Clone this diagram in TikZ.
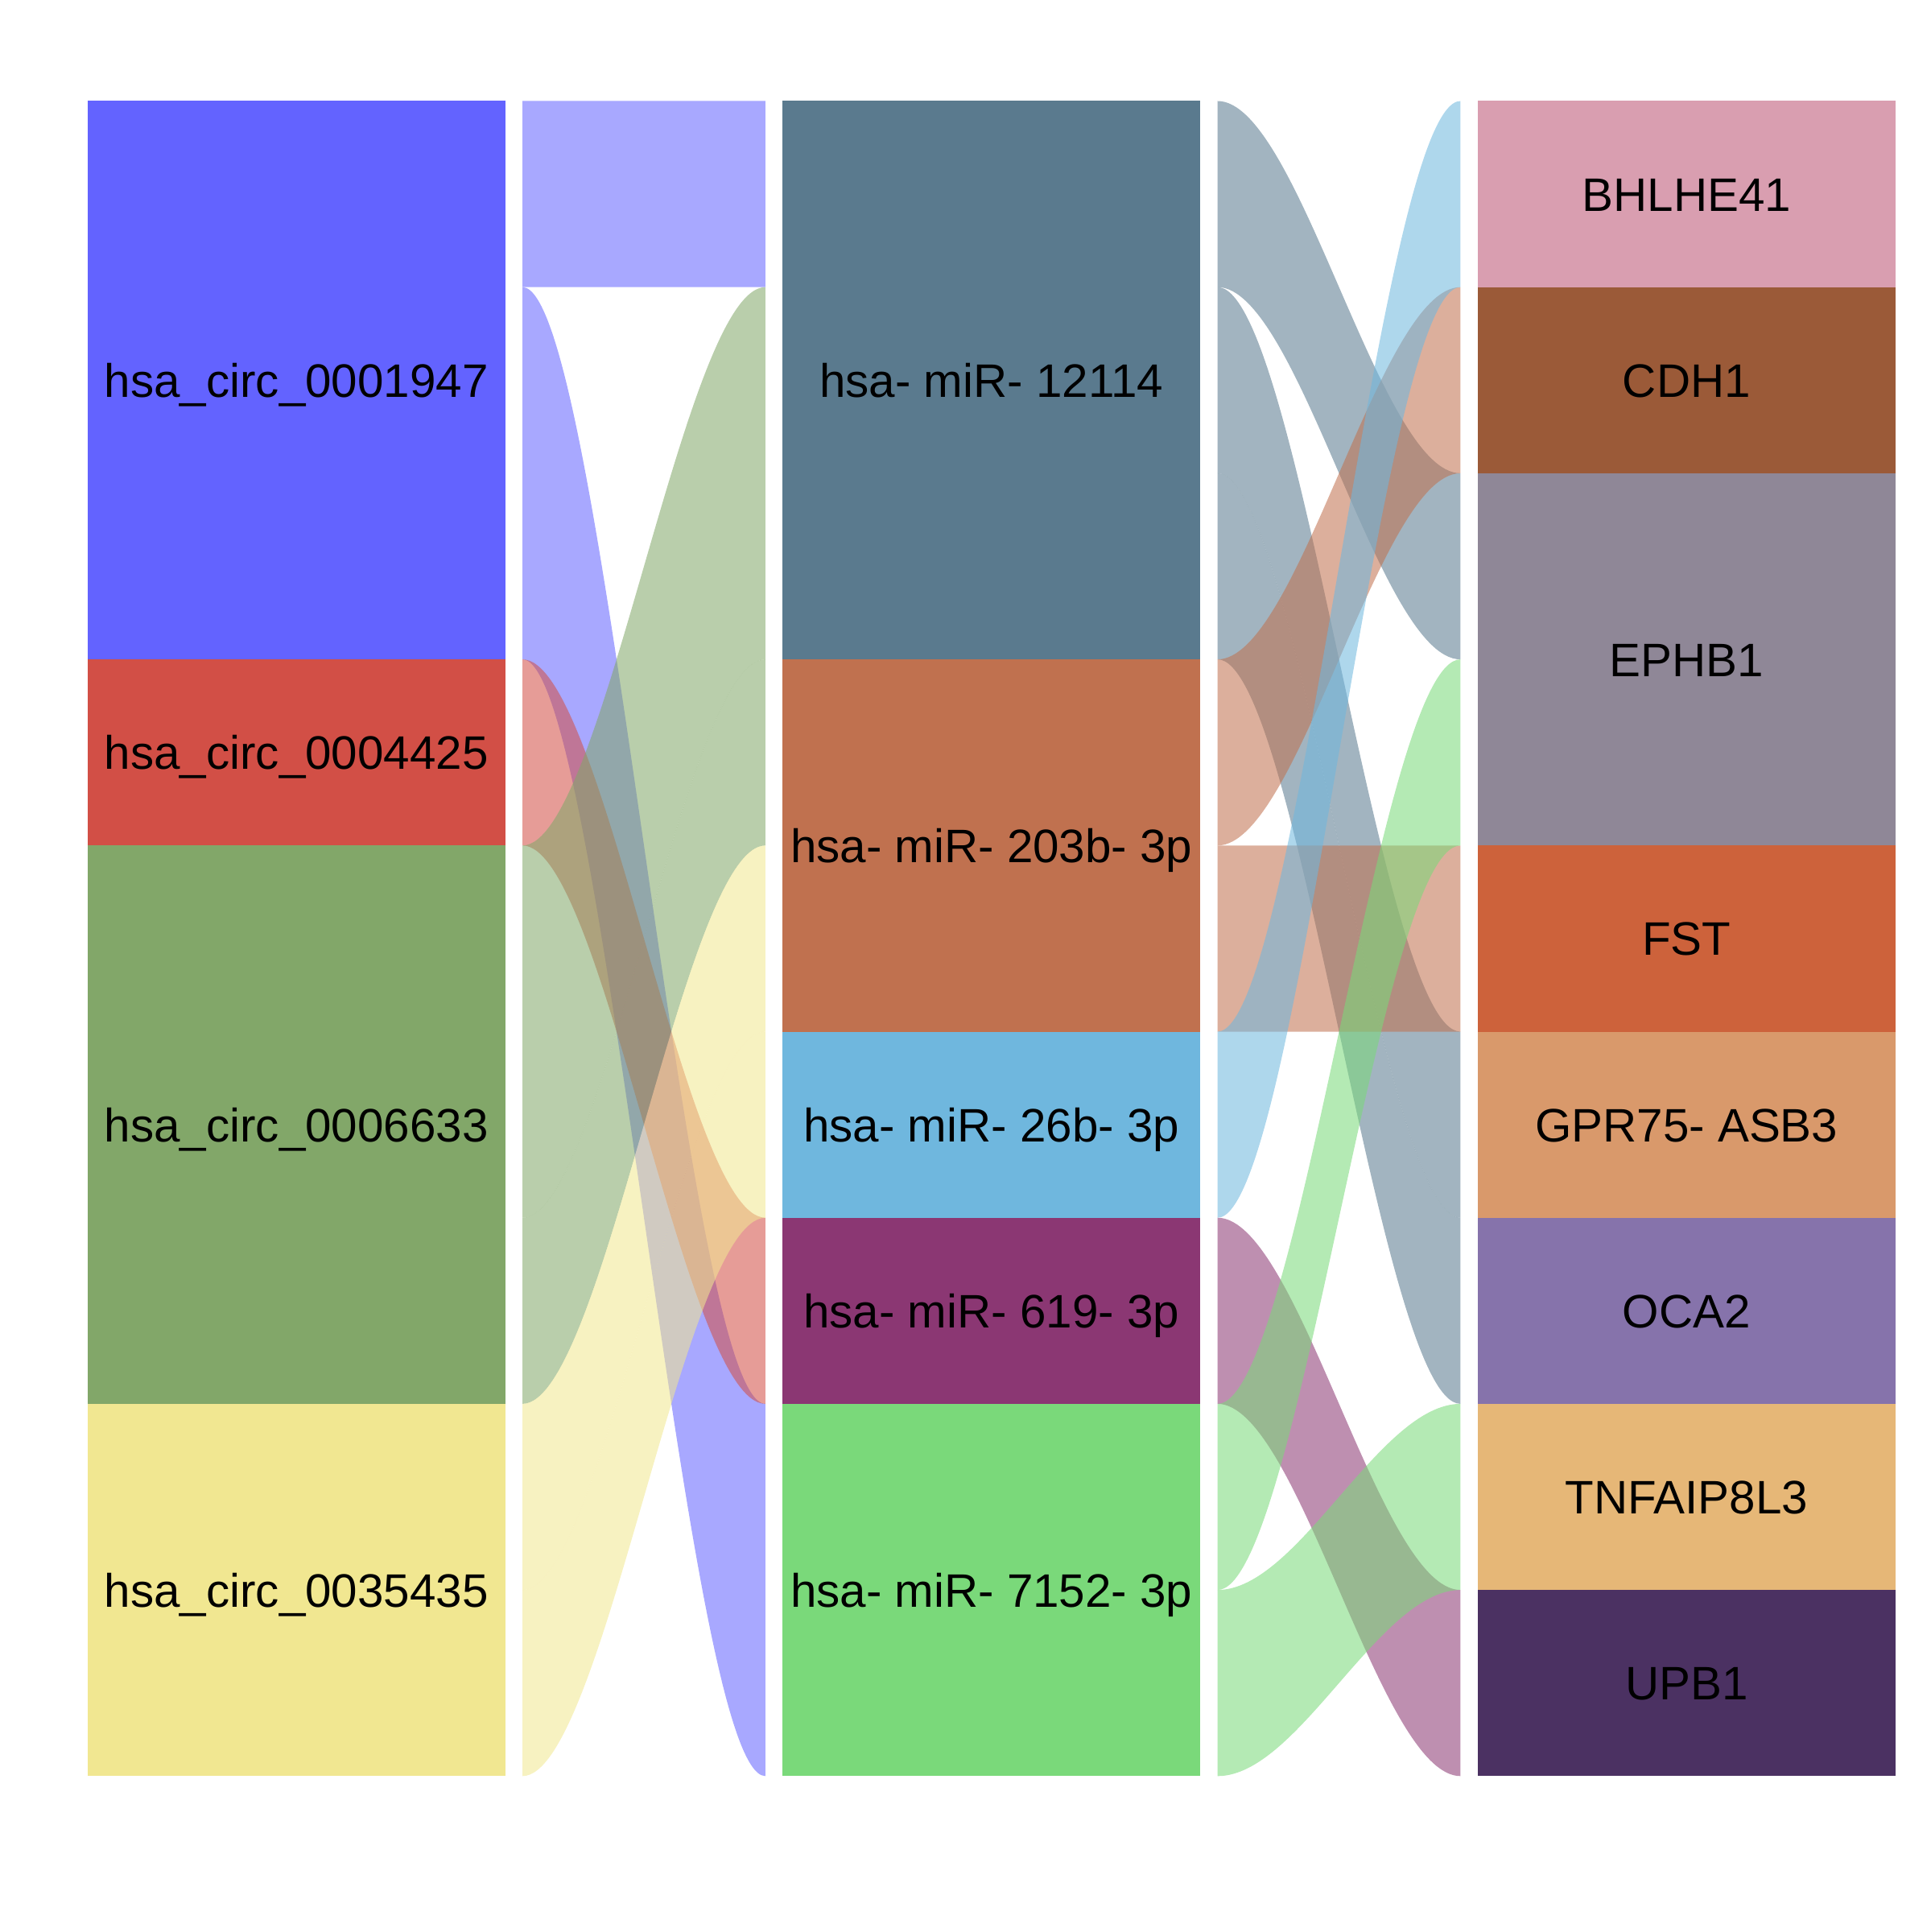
\documentclass[tikz,border=0pt]{standalone}
\usepackage{fontspec}
\setmainfont{Liberation Sans}
\usepackage{tikz}

\definecolor{circA}{RGB}{99,99,255}
\definecolor{circB}{RGB}{210,79,70}
\definecolor{circC}{RGB}{130,167,105}
\definecolor{circD}{RGB}{241,231,145}
\definecolor{mirA}{RGB}{90,122,142}
\definecolor{mirB}{RGB}{192,113,79}
\definecolor{mirC}{RGB}{111,183,222}
\definecolor{mirD}{RGB}{139,55,115}
\definecolor{mirE}{RGB}{122,217,122}
\definecolor{geneA}{RGB}{217,158,176}
\definecolor{geneB}{RGB}{155,90,56}
\definecolor{geneC}{RGB}{143,135,151}
\definecolor{geneD}{RGB}{205,98,59}
\definecolor{geneE}{RGB}{217,153,107}
\definecolor{geneF}{RGB}{134,115,171}
\definecolor{geneG}{RGB}{230,183,119}
\definecolor{geneH}{RGB}{75,49,98}

% band: left x, left top, left bottom, right top, right bottom, colour
\newcommand{\band}[6]{%
  \fill[#6, opacity=0.56] (#1,#2) .. controls (#1+101,#2) and (#1+201,#4) .. (#1+302,#4)
    -- (#1+302,#5) .. controls (#1+201,#5) and (#1+101,#3) .. (#1,#3) -- cycle;}

\begin{document}
\begin{tikzpicture}[x=0.01cm, y=-2.312cm,
    box/.style={rectangle, inner sep=0pt, outer sep=0pt, minimum width=5.19cm,
      text height=11.9pt, text depth=0pt, font=\fontsize{16.6}{19}\selectfont},
    slots/.style={minimum height=#1*2.312cm}]
    \useasboundingbox (0,-0.5428) rectangle (2400,9.8378);

    % circRNA -> miRNA
    \band{649.5}{0}{1}{0}{1}{circA}
    \band{649.5}{1}{3}{7}{9}{circA}
    \band{649.5}{3}{4}{6}{7}{circB}
    \band{649.5}{4}{6}{1}{3}{circC}
    \band{649.5}{6}{7}{3}{4}{circC}
    \band{649.5}{7}{8}{4}{5}{circD}
    \band{649.5}{8}{9}{5}{6}{circD}

    % miRNA -> gene
    \band{1513.5}{0}{1}{2}{3}{mirA}
    \band{1513.5}{1}{2}{5}{6}{mirA}
    \band{1513.5}{2}{3}{6}{7}{mirA}
    \band{1513.5}{3}{4}{1}{2}{mirB}
    \band{1513.5}{4}{5}{4}{5}{mirB}
    \band{1513.5}{5}{6}{0}{1}{mirC}
    \band{1513.5}{6}{7}{8}{9}{mirD}
    \band{1513.5}{7}{8}{3}{4}{mirE}
    \band{1513.5}{8}{9}{7}{8}{mirE}

    \node[box, slots=3, fill=circA] (c0001947) at (368.5,1.5) {hsa\_circ\_0001947};
    \node[box, slots=1, fill=circB] (c0004425) at (368.5,3.5) {hsa\_circ\_0004425};
    \node[box, slots=3, fill=circC] (c0006633) at (368.5,5.5) {hsa\_circ\_0006633};
    \node[box, slots=2, fill=circD] (c0035435) at (368.5,8) {hsa\_circ\_0035435};

    \node[box, slots=3, fill=mirA] (m12114) at (1232.5,1.5) {hsa- miR- 12114};
    \node[box, slots=2, fill=mirB] (m203b) at (1232.5,4) {hsa- miR- 203b- 3p};
    \node[box, slots=1, fill=mirC] (m26b) at (1232.5,5.5) {hsa- miR- 26b- 3p};
    \node[box, slots=1, fill=mirD] (m619) at (1232.5,6.5) {hsa- miR- 619- 3p};
    \node[box, slots=2, fill=mirE] (m7152) at (1232.5,8) {hsa- miR- 7152- 3p};

    \node[box, slots=1, fill=geneA] (bhlhe) at (2096.5,0.5) {BHLHE41};
    \node[box, slots=1, fill=geneB] (cdh) at (2096.5,1.5) {CDH1};
    \node[box, slots=2, fill=geneC] (ephb) at (2096.5,3) {EPHB1};
    \node[box, slots=1, fill=geneD] (fst) at (2096.5,4.5) {FST};
    \node[box, slots=1, fill=geneE] (gpr) at (2096.5,5.5) {GPR75- ASB3};
    \node[box, slots=1, fill=geneF] (oca) at (2096.5,6.5) {OCA2};
    \node[box, slots=1, fill=geneG] (tnf) at (2096.5,7.5) {TNFAIP8L3};
    \node[box, slots=1, fill=geneH] (upb) at (2096.5,8.5) {UPB1};
\end{tikzpicture}
\end{document}
